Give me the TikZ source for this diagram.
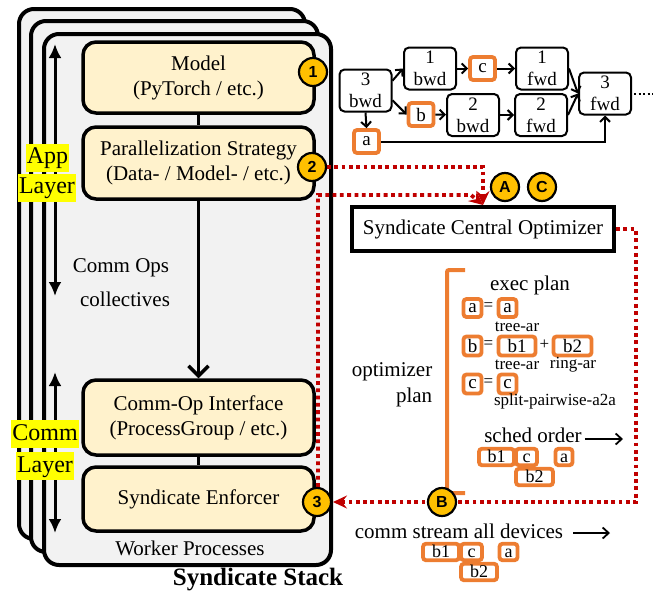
\documentclass[tikz,border=0pt]{standalone}
\usepackage{fontspec}
\setmainfont{Liberation Serif}
\newfontfamily\badgefont{Liberation Sans}
\usetikzlibrary{arrows.meta,calc}
\definecolor{stackgray}{HTML}{F2F2F2}
\definecolor{layerfill}{HTML}{FFF2CC}
\definecolor{badgegold}{HTML}{FFC000}
\definecolor{planorange}{HTML}{ED7D31}
\definecolor{ctrlred}{HTML}{C00000}
\definecolor{hilite}{HTML}{FFFF00}
\tikzset{
  worker/.style={draw, line width=4pt, fill=stackgray, rounded corners=15pt},
  layerbox/.style={draw, line width=3.5pt, fill=layerfill, rounded corners=13pt,
    minimum width=231pt, align=center, inner sep=0pt, font=\fontsize{21}{25}\selectfont},
  badge/.style={circle, draw, line width=2.2pt, fill=badgegold, minimum size=28pt,
    inner sep=0pt, font=\badgefont\bfseries\fontsize{16}{16}\selectfont},
  hl/.style={fill=hilite, inner xsep=1pt, inner ysep=2pt, text height=18pt, text depth=6pt,
    font=\fontsize{24}{24}\selectfont},
  txt/.style={inner sep=0pt, align=center, font=\fontsize{21}{26}\selectfont},
  subtxt/.style={inner sep=0pt, font=\fontsize{17}{17}\selectfont},
  dagbox/.style={draw, line width=2pt, rounded corners=5pt, minimum width=52pt,
    minimum height=42pt, inner sep=0pt, align=center, font=\fontsize{19}{22}\selectfont},
  opbox/.style={draw=planorange, line width=3.8pt, rounded corners=3pt, inner sep=0pt,
    minimum height=17pt, font=\fontsize{19}{19}\selectfont},
  blockbox/.style={opbox, minimum height=16.5pt, text height=12pt, text depth=1pt,
    font=\fontsize{18}{18}\selectfont},
  dagedge/.style={line width=2pt, -{Straight Barb[length=5pt,width=10pt]}},
  thinarrow/.style={line width=1.8pt, -{Straight Barb[length=6pt,width=11pt]}},
  ctrl/.style={draw=ctrlred, line width=3.8pt, dash pattern=on 3.8pt off 3.5pt},
  ctrltip/.style={-{Stealth[length=14pt,width=13pt,inset=5pt]}},
  layerarrow/.style={line width=3pt, {Latex[length=14pt,width=13pt]}-{Latex[length=14pt,width=13pt]}}
}
\begin{document}
\begin{tikzpicture}[x=1pt,y=-1pt]
\useasboundingbox (0,0) rectangle (653,595);

% stacked worker processes
\draw[worker] (19,9) rectangle (305,539);
\draw[worker] (31,21) rectangle (318,552);
\draw[worker] (44,34) rectangle (331,565);

% layer extent arrows
\coordinate (apptop) at (55,44);
\coordinate (appbot) at (55,296);
\coordinate (commtop) at (55,372);
\coordinate (commbot) at (55,533);
\draw[layerarrow] (apptop) -- (appbot);
\draw[layerarrow] (commtop) -- (commbot);

% software layers
\node[layerbox, minimum height=71pt] (model) at (198.5,77.5) {Model\\(PyTorch / etc.)};
\node[layerbox, minimum height=72pt] (par) at (198.5,163) {Parallelization Strategy\\(Data- / Model- / etc.)};
\node[layerbox, minimum height=75pt] (commop) at (198.5,417.5) {Comm-Op Interface\\(ProcessGroup / etc.)};
\node[layerbox, minimum height=64pt] (enf) at (198.5,499) {Syndicate Enforcer};

\draw[line width=3.5pt] (model.south) -- (par.north);
\draw[line width=3.5pt, -{Straight Barb[length=10pt,width=20pt]}] (par.south) -- (commop.north);
\draw[line width=3.5pt] (commop.south) -- (enf.north);

% layer labels
\node[hl] (applbl) at (47.5,157.5) {App};
\node[hl] (applayer) at (47,187.5) {Layer};
\node[hl] (commlbl) at (45,434) {Comm};
\node[hl] (commlayer) at (45,466) {Layer};

\node[txt] (commops) at (121,268) {Comm Ops};
\node[txt] (coll) at (125,299) {collectives};
\node[txt] (workers) at (190,548) {Worker Processes};
\node[txt, font=\bfseries\fontsize{25}{25}\selectfont] (stack) at (258,580) {Syndicate Stack};

% training graph
\node[dagbox] (bwd3) at (365.5,90.5) {3\\bwd};
\node[dagbox] (bwd1) at (430,68.5) {1\\bwd};
\node[dagbox] (fwd1) at (542,68.5) {1\\fwd};
\node[dagbox] (fwd3) at (605,93.5) {3\\fwd};
\node[dagbox] (bwd2) at (473,115) {2\\bwd};
\node[dagbox] (fwd2) at (541,115) {2\\fwd};
\node[opbox, minimum width=25pt, minimum height=23pt] (gc) at (482.5,68.5) {c};
\node[opbox, minimum width=25pt, minimum height=23pt] (gb) at (421,114.5) {b};
\node[opbox, minimum width=25pt, minimum height=23pt] (ga) at (366.5,141.5) {a};

\draw[dagedge] (bwd3.20) -- (bwd1.west);
\draw[dagedge] (bwd3.-20) -- (gb.west);
\draw[dagedge] (bwd3.south) -- (ga.north);
\draw[dagedge] (bwd1) -- (gc);
\draw[dagedge] (gc) -- (fwd1);
\draw[dagedge] (gb) -- (bwd2);
\draw[dagedge] (bwd2) -- (fwd2);
\draw[dagedge] (fwd1.east) -- (fwd3.west);
\draw[dagedge] (fwd2.east) -- (fwd3.west);
\draw[dagedge] (ga.east) -| (fwd3.south);
\coordinate (more) at (653,93.5);
\draw[line width=2pt, dash pattern=on 2pt off 2.5pt] ([xshift=2pt]fwd3.east) -- (more);

% central optimizer
\node[draw, line width=4pt, minimum width=262pt, minimum height=44pt, inner sep=0pt,
  font=\fontsize{21}{25}\selectfont] (opt) at (483,229) {Syndicate Central Optimizer};

% control flow
\coordinate (ctrlturn) at (471,195);
\coordinate (ctrlright) at (636,229);
\draw[ctrl, ctrltip] (312,167) ++(15,0) -| (opt.north);
\draw[ctrl, ctrltip] (318,487) |- (ctrlturn) -- (opt.north);
\draw[ctrl, ctrltip] (opt.east) -- (ctrlright) |- (333,502);

% optimizer plan bracket
\draw[planorange, line width=4pt, rounded corners=2pt] (465,270) -- (447,270) -- (447,493) -- (465,493);
\node[txt, align=right] (optplan) at (392,385) {optimizer\\plan};
\node[txt] (execplan) at (530,285) {exec plan};

% exec plan rows
\node[opbox, minimum width=18pt, minimum height=18pt] (xa) at (472.5,308) {a};
\node[subtxt] (eqa) at (488.5,307) {=};
\node[opbox, minimum width=18pt, minimum height=18pt] (xa2) at (507.5,308) {a};
\node[subtxt] (tra) at (517,327) {tree-ar};

\node[opbox, minimum width=18pt, minimum height=19pt] (xb) at (472.5,346) {b};
\node[subtxt] (eqb) at (488.5,345) {=};
\node[opbox, minimum width=37pt, minimum height=19pt] (xb1) at (517,346) {b1};
\node[subtxt] (plusb) at (544.5,345) {+};
\node[opbox, minimum width=38pt, minimum height=19pt] (xb2) at (572.5,346) {b2};
\node[subtxt] (trb) at (517,365) {tree-ar};
\node[subtxt] (ringb) at (573,365) {ring-ar};

\node[opbox, minimum width=18pt, minimum height=19pt] (xc) at (472.5,384) {c};
\node[subtxt] (eqc) at (488.5,383) {=};
\node[opbox, minimum width=18pt, minimum height=19pt] (xc2) at (507.5,384) {c};
\node[subtxt] (split) at (555,401) {split-pairwise-a2a};

% schedule order
\node[txt] (sched) at (533,435) {sched order};
\coordinate (schedend) at (623,439);
\draw[thinarrow] ([xshift=3pt]sched.east |- schedend) -- (schedend);
\node[blockbox, minimum width=35pt] (sb1) at (496.5,457) {b1};
\node[blockbox, minimum width=21pt] (sc) at (526.5,457) {c};
\node[blockbox, minimum width=17pt] (sa) at (564,457) {a};
\node[blockbox, minimum width=37pt] (sb2) at (534.5,477) {b2};

% communication stream
\node[txt] (stream) at (459,531) {comm stream all devices};
\coordinate (streamend) at (610,533);
\draw[thinarrow] ([xshift=10pt]stream.east |- streamend) -- (streamend);
\node[blockbox, minimum width=36pt] (cb1) at (441,552) {b1};
\node[blockbox, minimum width=21pt] (cc) at (471.5,552) {c};
\node[blockbox, minimum width=18pt] (ca) at (508.5,552) {a};
\node[blockbox, minimum width=36pt] (cb2) at (479,572) {b2};

% step badges
\node[badge] (b1) at (313,72) {1};
\node[badge] (b2) at (312,167) {2};
\node[badge] (b3) at (317,502) {3};
\node[badge] (bA) at (505,187) {A};
\node[badge] (bC) at (542,187) {C};
\node[badge] (bB) at (442,502) {B};
\end{tikzpicture}
\end{document}
